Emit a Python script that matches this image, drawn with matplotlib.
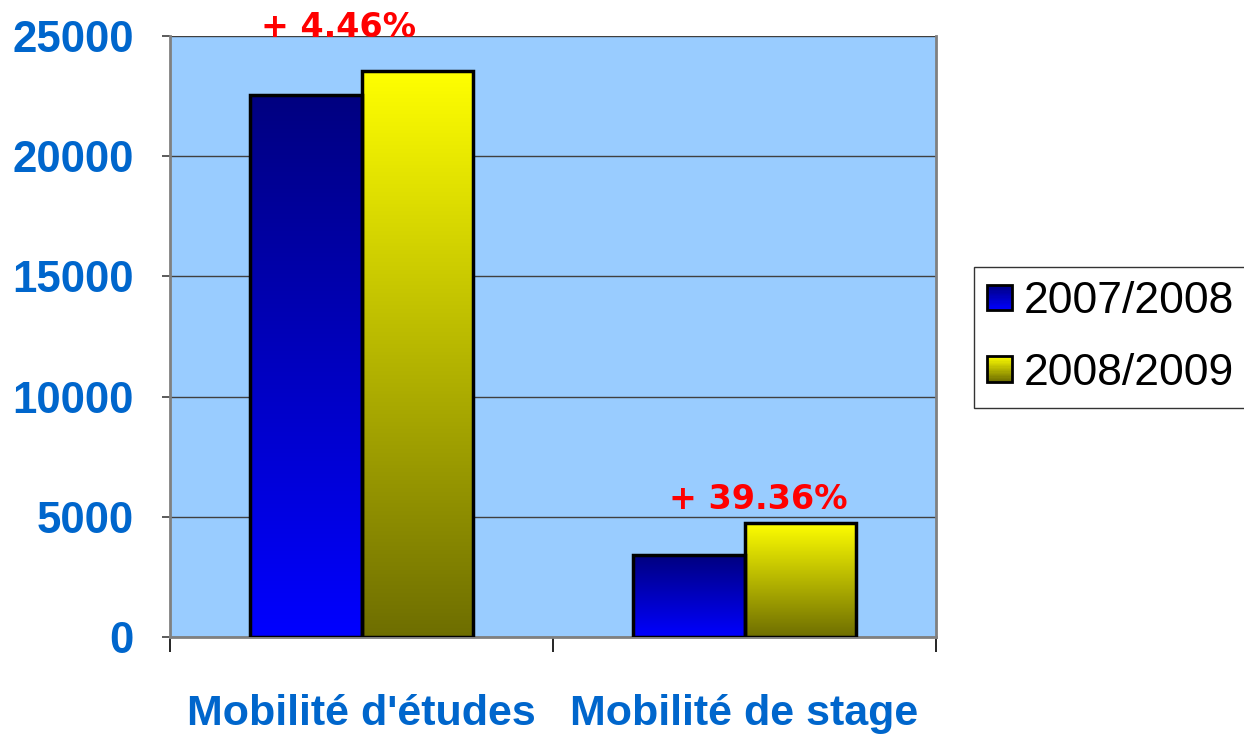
import numpy as np
import matplotlib
matplotlib.use("Agg")
import matplotlib.pyplot as plt
from matplotlib.patches import Rectangle
from matplotlib.legend_handler import HandlerBase
from matplotlib.colors import to_rgb

categories = ["Mobilité d'études", "Mobilité de stage"]
series_names = ["2007/2008", "2008/2009"]
values_2007 = [22550, 3410]
values_2008 = [23556, 4752]
growth_labels = ["+ 4.46%", "+ 39.36%"]
growth_pos_x = [-0.06, 1.035]
growth_pos_y = [24958, 5324]
yticks = [0, 5000, 10000, 15000, 20000, 25000]

# gradient colours: (top, bottom)
grad_colors = [("#000080", "#0000FF"), ("#FFFF00", "#6E6E00")]

fig = plt.figure(figsize=(12.44, 7.38), dpi=100)
ax = fig.add_axes([170/1244, 1-637/738, (936-170)/1244, (637-36)/738])
ax.set_facecolor("#99CCFF")

x = np.arange(len(categories))
w = 0.29
offsets = [-0.145, 0.145]

def grad_array(top, bottom, n=256):
    t = np.linspace(0, 1, n)[:, None]
    c0 = np.array(to_rgb(bottom)); c1 = np.array(to_rgb(top))
    arr = c0[None, :] * (1 - t) + c1[None, :] * t
    return arr[:, None, :]

for vals, off, (ctop, cbot) in zip([values_2007, values_2008], offsets, grad_colors):
    bars = ax.bar(x + off, vals, width=w, facecolor="none", edgecolor="black",
                  linewidth=2.5, zorder=3)
    for b in bars:
        bx, by, bw, bh = b.get_x(), b.get_y(), b.get_width(), b.get_height()
        im = ax.imshow(grad_array(ctop, cbot), extent=[bx, bx + bw, by, by + bh],
                       origin="lower", aspect="auto", zorder=2, interpolation="bilinear")
        im.set_clip_path(b)

ax.set_xlim(-0.5, 1.5)
ax.set_ylim(0, 25000)
ax.set_yticks(yticks)
ax.yaxis.grid(True, color="#404040", linewidth=1.0, zorder=1)
ax.set_axisbelow(True)

ytick_font = dict(family="Liberation Sans", weight="bold", size=31.5)
xtick_font = dict(family="Liberation Sans", weight="bold", size=31)
ax.set_yticklabels([str(v) for v in yticks], fontdict=ytick_font, color="#0066CC")
ax.tick_params(axis="y", length=6, width=1.2, color="#404040", pad=20)

ax.set_xticks([-0.5, 0.5, 1.5])
ax.set_xticklabels([])
ax.tick_params(axis="x", which="major", length=11, width=1.2, color="black")
ax.set_xticks(x, minor=True)
ax.set_xticklabels(categories, minor=True, fontdict=xtick_font, color="#0066CC")
ax.tick_params(axis="x", which="minor", length=0, pad=41)

for s in ["left", "bottom", "right", "top"]:
    ax.spines[s].set_color("#808080")
    ax.spines[s].set_linewidth(2)
ax.spines["top"].set_visible(False)

for lbl, px, py in zip(growth_labels, growth_pos_x, growth_pos_y):
    ax.text(px, py, lbl, color="red", fontsize=24, fontweight="bold",
            family="DejaVu Sans", ha="center", va="baseline", zorder=5, clip_on=False)

class GradHandler(HandlerBase):
    def __init__(self, top, bottom):
        super().__init__()
        self.top, self.bottom = top, bottom
    def create_artists(self, legend, orig_handle, xdescent, ydescent, width, height, fontsize, trans):
        size = height
        x0 = -xdescent + (width - size) / 2
        y0 = -ydescent
        arts = []
        n = 20
        c0 = np.array(to_rgb(self.bottom)); c1 = np.array(to_rgb(self.top))
        for i in range(n):
            t = (i + 0.5) / n
            col = c0 * (1 - t) + c1 * t
            r = Rectangle((x0, y0 + size * i / n), size, size / n + 0.3,
                          facecolor=col, edgecolor="none", transform=trans)
            arts.append(r)
        arts.append(Rectangle((x0, y0), size, size, facecolor="none",
                              edgecolor="black", linewidth=2, transform=trans))
        return arts

h1 = Rectangle((0, 0), 1, 1)
h2 = Rectangle((0, 0), 1, 1)
leg = fig.legend([h1, h2], series_names,
                 handler_map={h1: GradHandler(*grad_colors[0]), h2: GradHandler(*grad_colors[1])},
                 loc="center left", bbox_to_anchor=(974/1244, 1-337.5/738),
                 prop=dict(family="Liberation Sans", size=32),
                 frameon=True, fancybox=False, edgecolor="black",
                 handlelength=0.5, handleheight=0.5, handletextpad=0.3,
                 labelspacing=0.68, borderpad=0.33, borderaxespad=0)
leg.get_frame().set_linewidth(1)

fig.savefig("out.png", dpi=100)
